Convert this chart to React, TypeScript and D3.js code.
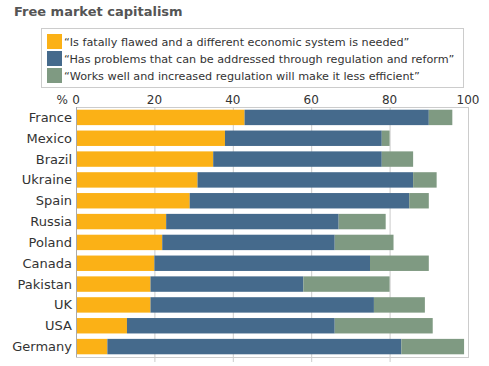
import { useEffect, useRef } from 'react';
import * as d3 from 'd3';

const countries = ['France', 'Mexico', 'Brazil', 'Ukraine', 'Spain', 'Russia', 'Poland', 'Canada', 'Pakistan', 'UK', 'USA', 'Germany'];
const fatallyFlawed = [43, 38, 35, 31, 29, 23, 22, 20, 19, 19, 13, 8];
const needsRegulation = [47, 40, 43, 55, 56, 44, 44, 55, 39, 57, 53, 75];
const worksWell = [6, 2, 8, 6, 5, 12, 15, 15, 22, 13, 25, 16];
const seriesLabels = [
    '\u201cIs fatally flawed and a different economic system is needed\u201d',
    '\u201cHas problems that can be addressed through regulation and reform\u201d',
    '\u201cWorks well and increased regulation will make it less efficient\u201d',
];
const seriesColors = ['#fbb116', '#456a8c', '#7f9a82'];
const tickValues = [0, 20, 40, 60, 80, 100];

const App = () => {
    const svgRef = useRef<SVGSVGElement>(null);

    useEffect(() => {
        if (!svgRef.current) return;
        const svg = d3.select(svgRef.current);
        svg.selectAll('*').remove();

        const font = 'DejaVu Sans, Verdana, sans-serif';
        const left = 76, right = 468, top = 107, bottom = 357;

        // Title
        svg.append('text')
            .attr('x', 14).attr('y', 16)
            .attr('font-family', font).attr('font-size', 13).attr('font-weight', 700)
            .attr('fill', '#555')
            .text('Free market capitalism');

        // Legend
        svg.append('rect')
            .attr('x', 41.5).attr('y', 28.5).attr('width', 422).attr('height', 59)
            .attr('fill', '#fff').attr('stroke', '#ccc');
        seriesLabels.forEach((lbl, i) => {
            svg.append('rect')
                .attr('x', 47).attr('y', 34 + i * 17).attr('width', 15).attr('height', 15)
                .attr('fill', seriesColors[i]);
            svg.append('text')
                .attr('x', 64).attr('y', 45.5 + i * 17)
                .attr('font-family', font).attr('font-size', 11.2).attr('fill', '#333')
                .text(lbl);
        });

        const x = d3.scaleLinear().domain([0, 100]).range([left, right]);
        const y = d3.scaleBand().domain(countries).range([top, bottom]).paddingInner(0.26).paddingOuter(0.13);

        // Grid
        svg.append('g')
            .selectAll('line')
            .data(tickValues.slice(1, -1))
            .join('line')
            .attr('x1', d => x(d) + 0.5).attr('x2', d => x(d) + 0.5)
            .attr('y1', top).attr('y2', bottom + 5)
            .attr('stroke', '#ccc');

        // Plot frame
        svg.append('rect')
            .attr('x', left + 0.5).attr('y', top + 0.5)
            .attr('width', right - left).attr('height', bottom - top)
            .attr('fill', 'none').attr('stroke', '#ccc');

        // Tick labels
        svg.append('g')
            .selectAll('text')
            .data(tickValues)
            .join('text')
            .attr('x', d => x(d)).attr('y', 104)
            .attr('text-anchor', 'middle')
            .attr('font-family', font).attr('font-size', 12).attr('fill', '#333')
            .text(d => String(d));
        svg.append('text')
            .attr('x', 68).attr('y', 104)
            .attr('text-anchor', 'end')
            .attr('font-family', font).attr('font-size', 12).attr('fill', '#333')
            .text('%');

        // Stacked bars
        const rows = countries.map((c, i) => ({ c, vals: [fatallyFlawed[i], needsRegulation[i], worksWell[i]] }));
        rows.forEach(r => {
            let acc = 0;
            r.vals.forEach((v, k) => {
                svg.append('rect')
                    .attr('x', x(acc)).attr('width', x(acc + v) - x(acc))
                    .attr('y', y(r.c)!).attr('height', y.bandwidth())
                    .attr('fill', seriesColors[k]);
                acc += v;
            });
        });

        // Axis line
        svg.append('line')
            .attr('x1', left + 0.5).attr('x2', left + 0.5).attr('y1', top).attr('y2', bottom)
            .attr('stroke', '#aaa');

        // Category labels
        svg.append('g')
            .selectAll('text')
            .data(countries)
            .join('text')
            .attr('x', 72).attr('y', d => y(d)! + y.bandwidth() / 2)
            .attr('dy', '0.35em')
            .attr('text-anchor', 'end')
            .attr('font-family', font).attr('font-size', 13).attr('fill', '#333')
            .text(d => d);
    }, []);

    return (
        <svg ref={svgRef} width={489} height={366}
            style={{ position: 'absolute', left: 0, top: 0, background: '#fff' }} />
    );
};

export default App;
